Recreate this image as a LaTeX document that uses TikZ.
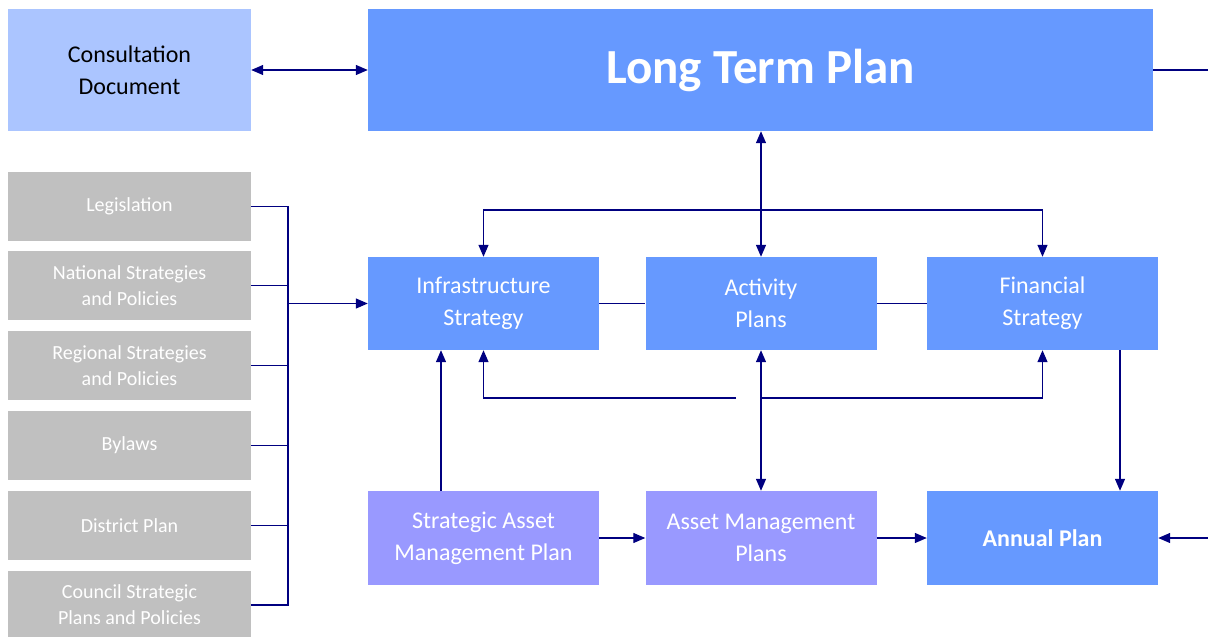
\documentclass[tikz,border=0pt]{standalone}
\usepackage{fontspec}
\setmainfont{Carlito}
\usetikzlibrary{arrows.meta}
\definecolor{ltblue}{HTML}{6699FF}
\definecolor{purp}{HTML}{9999FF}
\definecolor{grayb}{HTML}{C0C0C0}
\definecolor{navy}{HTML}{000080}
\definecolor{consfill}{HTML}{ABC5FF}
\tikzset{
 box/.style={rectangle, inner sep=0pt, align=center, text=white, font=\fontsize{24}{32}\selectfont},
 bluebox/.style={box, fill=ltblue, minimum width=231pt, minimum height=93pt},
 purplebox/.style={box, fill=purp, minimum width=231pt, minimum height=94pt},
 graybox/.style={box, fill=grayb, minimum width=243pt, minimum height=69pt, font=\fontsize{20}{26}\selectfont},
 conn/.style={draw=navy, line width=1.3pt},
 arr/.style={conn, -{Triangle[length=12pt,width=10pt]}},
 darr/.style={conn, {Triangle[length=12pt,width=10pt]}-{Triangle[length=12pt,width=10pt]}},
}
\begin{document}
\begin{tikzpicture}[x=1pt,y=-1pt]
\useasboundingbox (0,0) rectangle (1208,637);
% top row
\node[box, fill=consfill, text=black, minimum width=243pt, minimum height=122pt] (cons) at (129.5,70) {Consultation\\Document};
\node[box, fill=ltblue, minimum width=785pt, minimum height=122pt, font=\fontsize{49}{52}\selectfont\bfseries] (ltp) at (760.5,70) {Long Term Plan};
% gray inputs
\node[graybox] (leg) at (129.5,206.5) {Legislation};
\node[graybox] (nat) at (129.5,285.5) {National Strategies\\and Policies};
\node[graybox] (reg) at (129.5,365.5) {Regional Strategies\\and Policies};
\node[graybox] (byl) at (129.5,445.5) {Bylaws};
\node[graybox] (dis) at (129.5,525.5) {District Plan};
\node[graybox, minimum height=68pt] (cou) at (129.5,605) {Council Strategic\\Plans and Policies};
% middle row
\node[bluebox] (infra) at (483.5,303.5) {Infrastructure\\Strategy};
\node[bluebox] (act) at (761,303.5) {Activity\\Plans};
\node[bluebox] (fin) at (1042.5,303.5) {Financial\\Strategy};
% bottom row
\node[purplebox] (samp) at (483.5,538) {Strategic Asset\\Management Plan};
\node[purplebox] (amp) at (761,538) {Asset Management\\Plans};
\node[bluebox, minimum height=94pt, font=\fontsize{24}{32}\selectfont\bfseries] (annual) at (1042.5,538) {Annual Plan};
% coordinates
\coordinate (bt) at (288,206.5);
\coordinate (bb) at (288,605);
\coordinate (rt) at (1208,70);
\coordinate (rb) at (1208,538);
\coordinate (tb) at (761,210);
\coordinate (lb) at (736,398);
\coordinate (rbr) at (761,398);
% connectors
\draw[darr] (cons.east) -- (ltp.west);
\draw[conn] (ltp.east) -- (rt);
\draw[conn] (leg.east) -- (bt) -- (bb) -- (cou.east);
\draw[conn] (nat.east) -- (nat.east -| bt);
\draw[conn] (reg.east) -- (reg.east -| bt);
\draw[conn] (byl.east) -- (byl.east -| bt);
\draw[conn] (dis.east) -- (dis.east -| bt);
\draw[arr] (infra.west -| bt) -- (infra.west);
\draw[darr] (ltp.south -| act.north) -- (act.north);
\draw[arr] (tb) -| (infra.north);
\draw[arr] (tb) -| (fin.north);
\draw[conn] (infra.east) -- (act.west);
\draw[conn] (act.east) -- (fin.west);
\draw[arr] ([xshift=-42.5pt]samp.north) -- ([xshift=-42.5pt]infra.south);
\draw[arr] (lb) -| (infra.south);
\draw[arr] (rbr) -| (fin.south);
\draw[darr] (act.south) -- (amp.north);
\draw[arr] ([xshift=77.5pt]fin.south) -- ([xshift=77.5pt]annual.north);
\draw[arr] (samp.east) -- (amp.west);
\draw[arr] (amp.east) -- (annual.west);
\draw[arr] (rb) -- (annual.east);
\end{tikzpicture}
\end{document}
